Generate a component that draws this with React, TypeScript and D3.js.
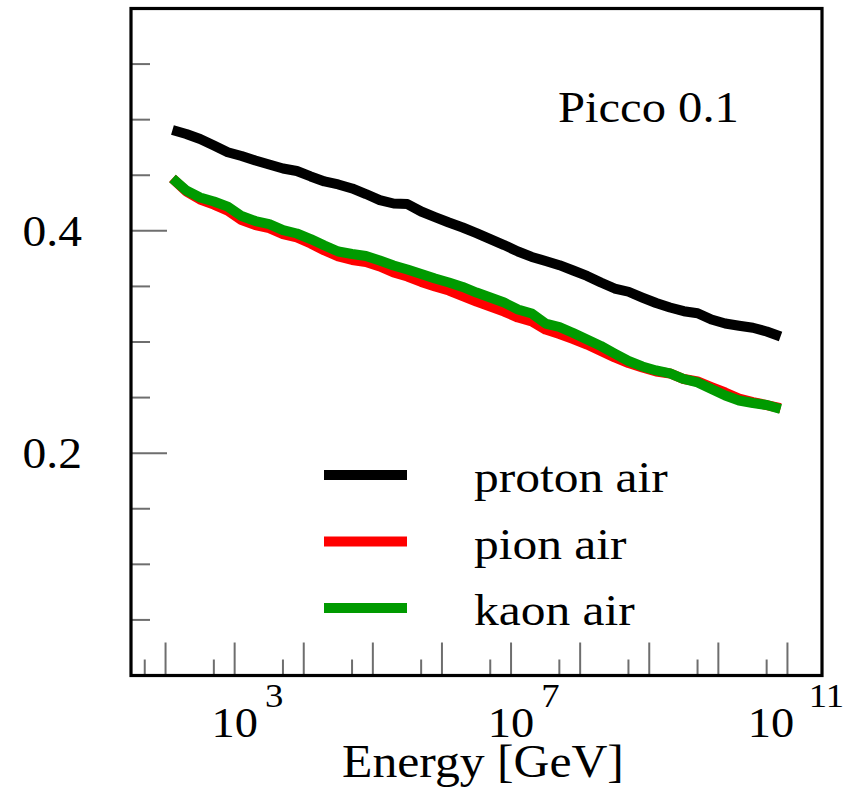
import React from "react";
import * as d3 from "d3";

// log10(E / GeV) sample positions
const logEnergy = [
  2.1, 2.3, 2.5, 2.7, 2.9, 3.1, 3.3, 3.5, 3.7, 3.9, 4.1, 4.3, 4.5, 4.7, 4.9,
  5.1, 5.3, 5.5, 5.7, 5.9, 6.1, 6.3, 6.5, 6.7, 6.9, 7.1, 7.3, 7.5, 7.7, 7.9,
  8.1, 8.3, 8.5, 8.7, 8.9, 9.1, 9.3, 9.5, 9.7, 9.9, 10.1, 10.3, 10.5, 10.7, 10.9,
];

const protonAir = [
  0.4907, 0.4871, 0.4826, 0.4767, 0.4707, 0.4673, 0.4633, 0.4597, 0.4561, 0.4538,
  0.4489, 0.4444, 0.4417, 0.4381, 0.4331, 0.4277, 0.4246, 0.4241, 0.4174, 0.4124,
  0.4075, 0.403, 0.398, 0.3926, 0.3872, 0.3814, 0.3765, 0.3729, 0.3691, 0.3643,
  0.3594, 0.3535, 0.3481, 0.3452, 0.34, 0.3351, 0.331, 0.3277, 0.3259, 0.3202,
  0.3166, 0.3146, 0.3128, 0.3094, 0.3049,
];

const pionAir = [
  0.4471, 0.4354, 0.4282, 0.4236, 0.4182, 0.4097, 0.4052, 0.4025, 0.3971, 0.394,
  0.3886, 0.3823, 0.3769, 0.3738, 0.372, 0.3679, 0.3625, 0.3589, 0.354, 0.3499,
  0.3463, 0.3414, 0.3364, 0.3319, 0.3274, 0.322, 0.3184, 0.3112, 0.3072, 0.3027,
  0.2977, 0.2919, 0.2861, 0.2811, 0.2771, 0.2735, 0.2717, 0.2667, 0.2645, 0.2595,
  0.2546, 0.2492, 0.246, 0.2433, 0.2406,
];

const kaonAir = [
  0.4471, 0.4363, 0.43, 0.4264, 0.4218, 0.4133, 0.4088, 0.4061, 0.4007, 0.3976,
  0.3926, 0.3868, 0.3814, 0.3792, 0.3774, 0.3733, 0.3688, 0.3652, 0.3612, 0.3571,
  0.3535, 0.3495, 0.3445, 0.34, 0.3355, 0.3292, 0.3256, 0.3166, 0.3135, 0.3081,
  0.3022, 0.2964, 0.2896, 0.2829, 0.278, 0.2744, 0.2717, 0.2667, 0.2636, 0.2577,
  0.2519, 0.2474, 0.2451, 0.2433, 0.2397,
];

const seriesNames = ["proton air", "pion air", "kaon air"];
const seriesColors = ["#000000", "#ff0000", "#009a00"];

const xMajorExponents = [2, 3, 4, 5, 6, 7, 8, 9, 10, 11];
const xMinorExponents = [1, 2, 3, 4, 5, 6, 7, 8, 9, 10]; // ticks at 5 x 10^n
const xLabelExponents = [3, 7, 11];
const yMajorTicks = [0.2, 0.4];
const yMinorTicks = [0.05, 0.1, 0.15, 0.25, 0.3, 0.35, 0.45, 0.5, 0.55];
const yTickLabels = ["0.2", "0.4"];

const W = 848;
const H = 787;
const FONT = "'Liberation Serif', 'Times New Roman', serif";
const SX = 1.08;

export default function App() {
  const x = d3.scaleLog().domain([Math.pow(10, 1.5), Math.pow(10, 11.5)]).range([131, 822]);
  const y = d3.scaleLinear().domain([0, 0.6]).range([675.5, 8.5]);
  const [x0, x1] = x.range();
  const [y0, y1] = y.range();

  const line = d3
    .line<number>()
    .x((_, i) => x(Math.pow(10, logEnergy[i])))
    .y((d) => y(d));

  const allSeries = [protonAir, pionAir, kaonAir];
  const tickColor = "#6e6e6e";

  return (
    <svg
      width={W}
      height={H}
      style={{ position: "absolute", left: 0, top: 0, background: "#fff" }}
      fontFamily={FONT}
    >
      <rect x={0} y={0} width={W} height={H} fill="#fff" />
      {/* minor/major ticks */}
      {yMinorTicks.map((t) => (
        <line key={"ym" + t} x1={x0} x2={x0 + 19} y1={y(t)} y2={y(t)} stroke={tickColor} strokeWidth={2} />
      ))}
      {yMajorTicks.map((t) => (
        <line key={"yM" + t} x1={x0} x2={x0 + 36} y1={y(t)} y2={y(t)} stroke={tickColor} strokeWidth={2} />
      ))}
      {xMinorExponents.map((e) => (
        <line key={"xm" + e} x1={x(5 * Math.pow(10, e))} x2={x(5 * Math.pow(10, e))} y1={y0} y2={y0 - 16} stroke={tickColor} strokeWidth={2} />
      ))}
      {xMajorExponents.map((e) => (
        <line key={"xM" + e} x1={x(Math.pow(10, e))} x2={x(Math.pow(10, e))} y1={y0} y2={y0 - 33} stroke={tickColor} strokeWidth={2} />
      ))}

      {/* curves */}
      {allSeries.map((s, i) => (
        <path
          key={seriesNames[i]}
          d={line(s) || ""}
          fill="none"
          stroke={seriesColors[i]}
          strokeWidth={10}
          strokeLinejoin="round"
          strokeLinecap="butt"
        />
      ))}

      {/* frame */}
      <rect x={x0} y={y1} width={x1 - x0} height={y0 - y1} fill="none" stroke="#000" strokeWidth={3.2} />

      {/* y tick labels */}
      {yMajorTicks.map((t, i) => (
        <text
          key={"yl" + t}
          transform={`translate(82, ${y(t) + 15}) scale(${SX},1)`}
          textAnchor="end"
          fontSize={44}
          fill="#000"
        >
          {yTickLabels[i]}
        </text>
      ))}

      {/* x tick labels */}
      {xLabelExponents.map((e) => {
        const px = Math.min(x(Math.pow(10, e)), W - 77);
        return (
          <g key={"xl" + e} transform={`translate(${px}, 737) scale(${SX},1)`}>
            <text x={0} y={0} textAnchor="middle" fontSize={43} fill="#000">
              10
            </text>
            <text x={e >= 10 ? 35 : 28} y={-30} textAnchor="start" fontSize={34} fill="#000">
              {String(e)}
            </text>
          </g>
        );
      })}

      {/* axis title */}
      <text transform={`translate(483, 777) scale(${SX},1)`} textAnchor="middle" fontSize={46} fill="#000">
        Energy [GeV]
      </text>

      {/* annotation */}
      <text transform={`translate(558, 122) scale(${SX},1)`} fontSize={45} fill="#000">
        Picco 0.1
      </text>

      {/* legend */}
      {seriesNames.map((n, i) => {
        const ly = 475 + i * 66.5;
        return (
          <g key={"lg" + n}>
            <line x1={324} x2={407} y1={ly} y2={ly} stroke={seriesColors[i]} strokeWidth={10} />
            <text transform={`translate(474, ${ly + 17}) scale(1.1,1)`} fontSize={45} fill="#000">
              {n}
            </text>
          </g>
        );
      })}
    </svg>
  );
}
